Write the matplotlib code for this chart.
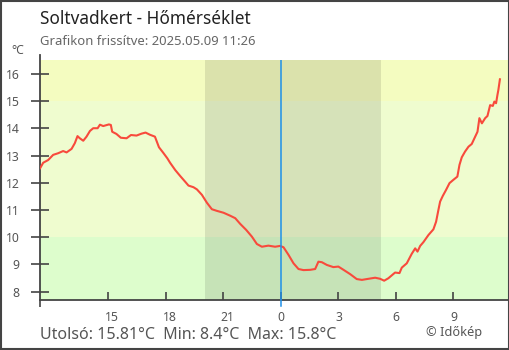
import matplotlib
matplotlib.use("Agg")
import matplotlib.pyplot as plt
import matplotlib.transforms as mtransforms
from matplotlib.patches import Rectangle

plt.rcParams['font.family'] = ['Noto Sans', 'DejaVu Sans']

# --- Adatok (órák éjfélhez képest, hőmérséklet °C) ---
hours = [-12.56, -12.40, -12.14, -11.88, -11.62, -11.36, -11.18, -10.92, -10.75, -10.61,
         -10.49, -10.31, -10.14, -9.96, -9.79, -9.56, -9.44, -9.27, -8.97, -8.87,
         -8.80, -8.58, -8.35, -8.05, -7.82, -7.53, -7.27, -7.06, -6.83, -6.57,
         -6.36, -6.14, -5.92, -5.78, -5.51, -5.25, -4.99, -4.82, -4.56, -4.38,
         -4.12, -3.86, -3.60, -3.34, -2.99, -2.64, -2.38, -2.12, -1.81, -1.51,
         -1.25, -0.99, -0.65, -0.30, -0.04, 0.14, 0.40, 0.66, 0.92, 1.18,
         1.53, 1.79, 1.96, 2.14, 2.40, 2.74, 3.00, 3.27, 3.62, 3.96,
         4.23, 4.57, 4.92, 5.18, 5.39, 5.61, 5.96, 6.19, 6.31, 6.57,
         6.83, 7.01, 7.13, 7.27, 7.44, 7.70, 7.96, 8.10, 8.22, 8.31,
         8.45, 8.62, 8.80, 9.00, 9.21, 9.32, 9.44, 9.61, 9.79, 9.96,
         10.14, 10.26, 10.36, 10.49, 10.66, 10.78, 10.92, 11.06, 11.14, 11.23,
         11.30, 11.35, 11.43]
temps = [12.54, 12.74, 12.84, 13.03, 13.09, 13.17, 13.12, 13.25, 13.46, 13.72,
         13.64, 13.55, 13.70, 13.91, 14.01, 14.01, 14.14, 14.09, 14.15, 14.13,
         13.88, 13.80, 13.66, 13.64, 13.76, 13.74, 13.81, 13.85, 13.77, 13.70,
         13.31, 13.11, 12.90, 12.74, 12.47, 12.25, 12.04, 11.90, 11.84, 11.76,
         11.56, 11.27, 11.03, 10.97, 10.90, 10.79, 10.70, 10.49, 10.27, 10.02,
         9.75, 9.65, 9.69, 9.65, 9.68, 9.63, 9.35, 9.04, 8.83, 8.79,
         8.80, 8.83, 9.10, 9.08, 8.98, 8.90, 8.92, 8.80, 8.64, 8.46,
         8.43, 8.47, 8.51, 8.47, 8.40, 8.49, 8.70, 8.68, 8.88, 9.04,
         9.39, 9.59, 9.47, 9.68, 9.82, 10.08, 10.29, 10.57, 11.00, 11.31,
         11.52, 11.74, 11.99, 12.11, 12.23, 12.66, 12.94, 13.15, 13.33, 13.43,
         13.70, 13.88, 14.38, 14.19, 14.38, 14.46, 14.86, 14.83, 14.99, 14.93,
         15.23, 15.42, 15.81]

x_ticks = [-9, -6, -3, 0, 3, 6, 9]
x_labels = ['15', '18', '21', '0', '3', '6', '9']
y_ticks = [8, 9, 10, 11, 12, 13, 14, 15, 16]

sunset = -3.95   # 20:03
sunrise = 5.23   # 05:13
x_start, x_end = -12.567, 11.92
y_lo, y_hi = 7.69, 16.52

fig = plt.figure(figsize=(5.1, 3.5), dpi=100)
W, H = 510, 350
ax = fig.add_axes([40 / W, 50 / H, 469.3 / W, 240 / H])

# háttérsávok
ax.axhspan(15, y_hi, color='#f4fcc0', lw=0, zorder=0)
ax.axhspan(10, 15, color='#effccf', lw=0, zorder=0)
ax.axhspan(y_lo, 10, color='#ddfdcc', lw=0, zorder=0)
ax.axvspan(sunset, sunrise, color='black', alpha=0.1, lw=0, zorder=1)

ax.plot(hours, temps, color='#f84a3c', lw=1.5, zorder=3)
ax.axvline(0, color='#1e90e8', lw=1.1, zorder=4)
ax.plot([0, 0], [y_lo - 0.22, y_lo], color='#1e90e8', lw=1.1, clip_on=False, zorder=4)

ax.set_xlim(x_start, x_end)
ax.set_ylim(y_lo, y_hi)

for s in ['top', 'right']:
    ax.spines[s].set_visible(False)
for s in ['left', 'bottom']:
    ax.spines[s].set_color('#444444')
    ax.spines[s].set_linewidth(1.3)
ax.spines['left'].set_bounds(y_lo, 16.7)

ax.set_yticks(y_ticks)
ax.tick_params(axis='y', direction='inout', length=13, width=1.2, color='#444444',
               labelsize=8.8, labelcolor='#555555', pad=8)
ax.set_xticks(x_ticks)
ax.set_xticklabels(x_labels, ha='left')
ax.tick_params(axis='x', direction='in', length=6, width=1.2, color='#444444',
               labelsize=8.8, labelcolor='#555555', pad=8)
ax.set_xticks([x_start, x_end], minor=True)
ax.tick_params(axis='x', which='minor', direction='out', length=5, width=1.2, color='#444444')
off = mtransforms.ScaledTranslation(-3.3 / 100, 0, fig.dpi_scale_trans)
for lab in ax.get_xticklabels():
    lab.set_transform(lab.get_transform() + off)

# szövegek
fig.text(40 / W, 1 - 24 / H, 'Soltvadkert - Hőmérséklet', fontsize=12.4,
         color='#222222', va='baseline')
fig.text(40 / W, 1 - 45 / H, 'Grafikon frissítve: 2025.05.09 11:26', fontsize=9.4,
         color='#666666', va='baseline')
fig.text(18 / W, 1 - 50 / H, '°C', fontsize=8.8, color='#555555', ha='center', va='center')
fig.text(40 / W, 1 - 339.3 / H, 'Utolsó: 15.81°C  Min: 8.4°C  Max: 15.8°C', fontsize=11.5,
         color='#555555', va='baseline')
fig.text(482 / W, 1 - 335.7 / H, '© Időkép', fontsize=9.2, color='#555555',
         ha='right', va='baseline')

fig.add_artist(Rectangle((0.001, 0.002), 0.997, 0.996, transform=fig.transFigure,
                         fill=False, edgecolor='#444444', lw=1.5))

fig.savefig('out.png', dpi=100)
